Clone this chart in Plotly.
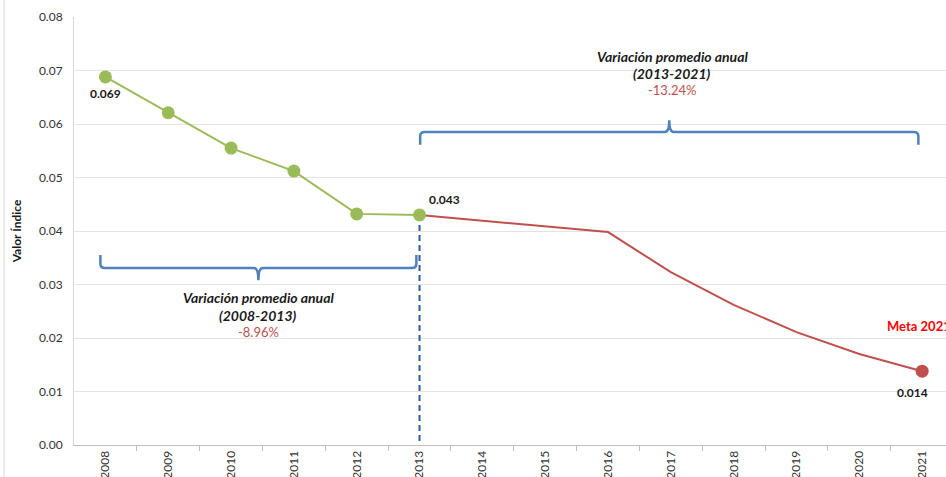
import plotly.graph_objects as go

# historical index (green) and projected path to the 2021 goal (red)
years_hist = [2008, 2009, 2010, 2011, 2012, 2013]
index_hist = [0.0688, 0.0621, 0.0555, 0.0512, 0.0432, 0.0430]

years_goal = [2013, 2014, 2015, 2016, 2017, 2018, 2019, 2020, 2021]
index_goal = [0.0430, None, None, 0.0398, 0.0323, 0.0262, 0.0211, 0.0170, 0.0138]

all_years = list(range(2008, 2022))

var_1 = ("Variación promedio anual", "(2008-2013)", "-8.96%")
var_2 = ("Variación promedio anual", "(2013-2021)", "-13.24%")

GREEN = "#9BBB59"
RED = "#C0504D"
BLUE = "#4F81BD"
FONT = "Lato, 'Open Sans', sans-serif"


def brace(x0, x1, y_line, y_tip, y_mid, rx=0.07, ry=0.0008):
    """curly brace path: ends go to y_tip, centre point to y_mid."""
    xm = (x0 + x1) / 2
    s = 1 if y_tip > y_line else -1
    return (f"M {x0},{y_tip} L {x0},{y_line + s * ry} "
            f"Q {x0},{y_line} {x0 + rx},{y_line} L {xm - rx},{y_line} "
            f"Q {xm},{y_line} {xm},{y_mid} Q {xm},{y_line} {xm + rx},{y_line} "
            f"L {x1 - rx},{y_line} Q {x1},{y_line} {x1},{y_line + s * ry} L {x1},{y_tip}")


fig = go.Figure()

# dashed split line at 2013
fig.add_trace(go.Scatter(x=[years_hist[-1], years_hist[-1]], y=[index_hist[-1], 0],
                         mode="lines", line=dict(color="#2E5C9E", width=2, dash="6px,4px"),
                         hoverinfo="skip"))
fig.add_trace(go.Scatter(x=years_goal, y=index_goal, mode="lines", connectgaps=True,
                         line=dict(color=RED, width=2)))
fig.add_trace(go.Scatter(x=years_goal[-1:], y=index_goal[-1:], mode="markers",
                         marker=dict(color=RED, size=13)))
fig.add_trace(go.Scatter(x=years_hist, y=index_hist, mode="lines+markers",
                         line=dict(color=GREEN, width=2), marker=dict(color=GREEN, size=13)))

lab = dict(showarrow=False, font=dict(family=FONT, size=12, color="#1A1A1A"))
fig.add_annotation(x=years_hist[0], y=index_hist[0], text=f"<b>{index_hist[0]:.3f}</b>",
                   yshift=-17, **lab)
fig.add_annotation(x=years_hist[-1], y=index_hist[-1], text=f"<b>{index_hist[-1]:.3f}</b>",
                   xshift=25, yshift=15, **lab)
fig.add_annotation(x=years_goal[-1], y=index_goal[-1], text=f"<b>{index_goal[-1]:.3f}</b>",
                   xshift=-10, yshift=-21, **lab)
fig.add_annotation(x=years_goal[-1], y=index_goal[-1], text="<b>Meta 2021</b>",
                   xanchor="left", xshift=-37, yshift=45, showarrow=False,
                   font=dict(family=FONT, size=13, color="#FF0000"))

# braces + variation notes
fig.add_shape(type="path", path=brace(2007.92, 2012.95, 0.0331, 0.0355, 0.0308),
              line=dict(color=BLUE, width=2.5))
fig.add_shape(type="path", path=brace(2013.01, 2020.94, 0.0585, 0.0561, 0.0607),
              line=dict(color=BLUE, width=2.5))

note = dict(showarrow=False, font=dict(family=FONT, size=14, color="#1A1A1A"))
for (title, span, pct), xc, ys in [(var_1, 2010.43, (0.0275, 0.0243, 0.0211)),
                                   (var_2, 2017.02, (0.0727, 0.0695, 0.0664))]:
    fig.add_annotation(x=xc, y=ys[0], text=f"<b><i>{title}</i></b>", **note)
    fig.add_annotation(x=xc, y=ys[1], text=f"<b><i>{span}</i></b>", **note)
    fig.add_annotation(x=xc, y=ys[2], text=pct, showarrow=False,
                       font=dict(family=FONT, size=13, color=RED))

# thin frame line at the left of the picture
fig.add_shape(type="line", xref="paper", yref="paper", x0=-0.0802, x1=-0.0802, y0=-0.1, y1=1.1,
              line=dict(color="#D9D9D9", width=1))

fig.update_layout(
    width=946, height=477, showlegend=False,
    margin=dict(l=74, r=0, t=17, b=32),
    paper_bgcolor="white", plot_bgcolor="white",
    font=dict(family=FONT, size=12, color="#333333"),
)
fig.update_xaxes(
    range=[2007.5, 2021.38], tickvals=all_years, ticktext=[str(y) for y in all_years],
    tickangle=-90, ticks="", showgrid=False, zeroline=False, automargin=False,
    showline=True, linecolor="#BFBFBF", linewidth=1,
    tickfont=dict(family=FONT, size=12, color="#333333"),
    minor=dict(tickvals=[y + 0.5 for y in all_years[:-1]], ticks="outside", ticklen=5,
               tickcolor="#BFBFBF", showgrid=False),
)
fig.update_yaxes(
    range=[0, 0.08], dtick=0.01, tickformat=".2f", showgrid=True, gridcolor="#E3E3E3",
    zeroline=False, showline=True, linecolor="#D9D9D9", ticks="", automargin=False,
    ticklabelstandoff=8,
    tickfont=dict(family=FONT, size=12, color="#333333"),
    title=dict(text="<b>Valor Índice</b>", font=dict(family=FONT, size=12, color="#1A1A1A"),
               standoff=14),
)

# drop the browser's default 8px body margin so the figure fills the window exactly
fig.write_html("out.html", config={"displayModeBar": False},
               post_script="document.body.style.margin='0';document.body.style.overflow='hidden';")
